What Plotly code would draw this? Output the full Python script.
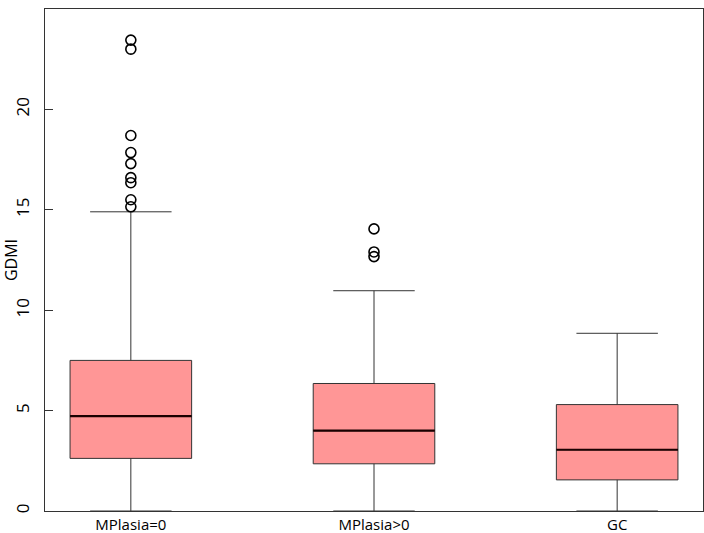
"""GDMI by group: R-style boxplot recreated in plotly."""
import plotly.graph_objects as go

# ----- data -----
groups = ["MPlasia=0", "MPlasia>0", "GC"]
q1 = [2.62, 2.35, 1.55]
median = [4.72, 4.0, 3.05]
q3 = [7.5, 6.35, 5.3]
lower_fence = [0.0, 0.0, 0.0]
upper_fence = [14.9, 10.97, 8.85]

outlier_group = [0] * 9 + [1] * 3
outlier_vals = [23.45, 23.0, 18.7, 17.85, 17.3, 16.6, 16.35, 15.5, 15.15,
                14.05, 12.9, 12.67]

y_ticks = [0, 5, 10, 15, 20, 25]

BOX_W = 0.5
FONT = "Open Sans, Liberation Sans, sans-serif"
pos = list(range(len(groups)))

fig = go.Figure()
fig.add_trace(go.Box(
    x=pos, q1=q1, median=median, q3=q3,
    lowerfence=lower_fence, upperfence=upper_fence,
    boxpoints=False, width=BOX_W, whiskerwidth=0.67,
    fillcolor="#ff9696", line=dict(color="#333333", width=1),
    showlegend=False, hoverinfo="skip",
))

# thicker median bars, as R draws them
for i, m in zip(pos, median):
    fig.add_trace(go.Scatter(
        x=[i - BOX_W / 2, i + BOX_W / 2], y=[m, m], mode="lines",
        line=dict(color="#1a0000", width=2.2),
        showlegend=False, hoverinfo="skip",
    ))

fig.add_trace(go.Scatter(
    x=outlier_group, y=outlier_vals, mode="markers",
    marker=dict(symbol="circle-open", size=10, color="black",
                line=dict(width=1.6)),
    showlegend=False, hoverinfo="skip",
))

fig.update_layout(
    width=704, height=533,
    margin=dict(l=45, r=1, t=9, b=22),
    paper_bgcolor="white", plot_bgcolor="white",
    font=dict(family=FONT, size=16, color="black"),
)
fig.update_xaxes(
    range=[-0.353, 2.353], tickvals=pos, ticktext=groups,
    showgrid=False, zeroline=False, ticks="", automargin=False,
    showline=True, linecolor="#333333", linewidth=1, mirror=True,
    tickfont=dict(size=15), ticklabelstandoff=0,
)
fig.update_yaxes(
    range=[0, 25], tickvals=y_ticks, tickangle=-90, automargin=False,
    showgrid=False, zeroline=False,
    ticks="inside", ticklen=8, tickcolor="#333333",
    ticklabelstandoff=8,
    showline=True, linecolor="#333333", linewidth=1, mirror=True,
    title=dict(text="GDMI", standoff=0, font=dict(size=16)),
    tickfont=dict(size=17),
)

# the page's default 8px body margin would push the 704x533 figure off-screen
fig.write_html("out.html",
               config={"displayModeBar": False},
               post_script="document.body.style.margin='0';"
                           "document.body.style.overflow='hidden';")
